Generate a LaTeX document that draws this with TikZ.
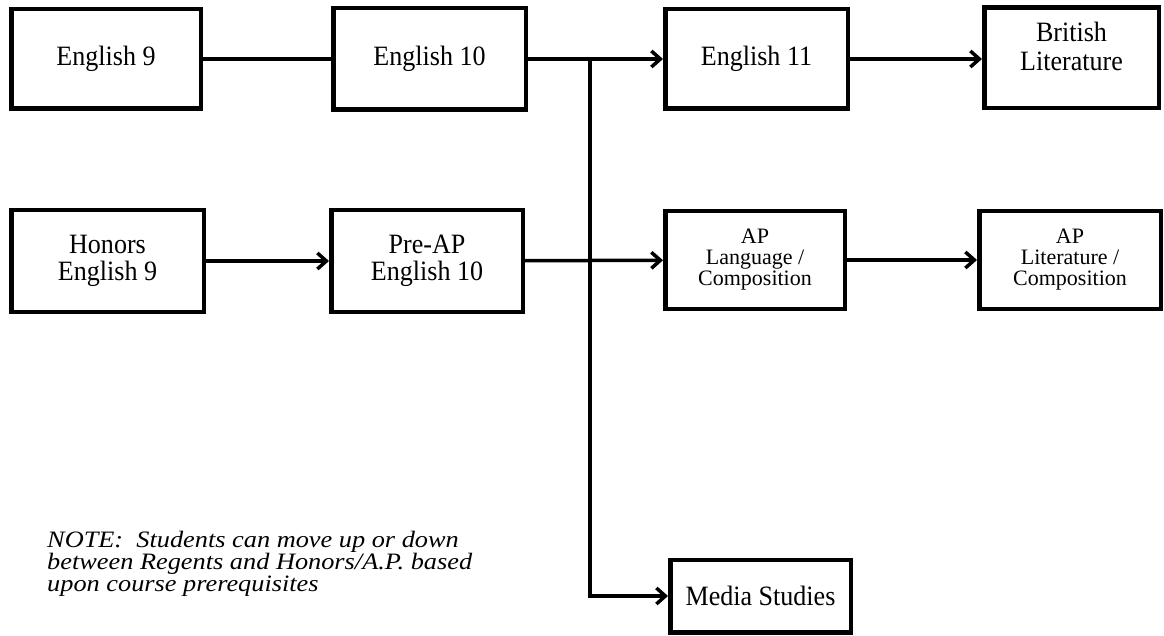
\documentclass[tikz,border=0pt]{standalone}
\usepackage{fontspec}
\setmainfont{Liberation Serif}[FakeStretch=0.93]
\newfontfamily\apfamily{Liberation Serif}
\newfontfamily\notefont{Liberation Serif}[FakeStretch=1.12]
\usetikzlibrary{arrows.meta}
\newcommand{\boxfont}{\fontsize{28}{27}\selectfont}
\newcommand{\apfont}{\apfamily\fontsize{22}{21}\selectfont}
\tikzset{
  course/.style={draw, line width=4.5pt, inner sep=0pt, align=center, font=\boxfont},
  conn/.style={line width=3.5pt},
  arr/.style={conn, -{Straight Barb[length=9pt,width=16pt]}},
}
\begin{document}
\begin{tikzpicture}[x=1pt,y=-1pt]
\useasboundingbox[fill=white] (0,0) rectangle (1164,636);
% row 1
\node[course, minimum width=189.5pt, minimum height=99.5pt] (e9) at (106,59) {English 9};
\node[course, minimum width=192.5pt, minimum height=101.5pt] (e10) at (429.5,59) {English 10};
\node[course, minimum width=182.5pt, minimum height=99.5pt] (e11) at (756.5,59) {English 11};
\node[course, minimum width=174.5pt, minimum height=100.5pt, text depth=24pt, font=\fontsize{28}{29}\selectfont] (brit) at (1071.5,58) {British\\Literature};
% row 2
\node[course, minimum width=192.5pt, minimum height=101.5pt] (h9) at (107.5,261) {Honors\\English 9};
\node[course, minimum width=191.5pt, minimum height=101.5pt] (pre) at (427,261) {Pre-AP\\English 10};
\node[course, minimum width=179.5pt, minimum height=97.5pt, font=\apfont] (apl) at (755,260) {AP\\Language /\\Composition};
\node[course, minimum width=181.5pt, minimum height=97.5pt, font=\apfont] (aplit) at (1070,260) {AP\\Literature /\\Composition};
% media
\node[course, minimum width=180.5pt, minimum height=72.5pt] (media) at (760.5,596) {Media Studies};
% connectors
\coordinate (j) at (590,59);
\draw[conn, line width=4pt] (e9) -- (e10);
\draw[arr] (e10) -- (e11);
\draw[arr] (e11) -- (brit.west |- e11);
\draw[arr] (h9) -- (pre);
\draw[arr] (pre) -- (apl);
\draw[arr] (apl) -- (aplit);
\draw[arr] (j) |- (media.west);
% note
\node[anchor=north west, inner sep=0pt, align=left, font=\notefont\itshape\fontsize{23.5}{22}\selectfont] (note) at (47,531)
  {NOTE:\ \ Students can move up or down\\between Regents and Honors/A.P. based\\upon course prerequisites};
\end{tikzpicture}
\end{document}
